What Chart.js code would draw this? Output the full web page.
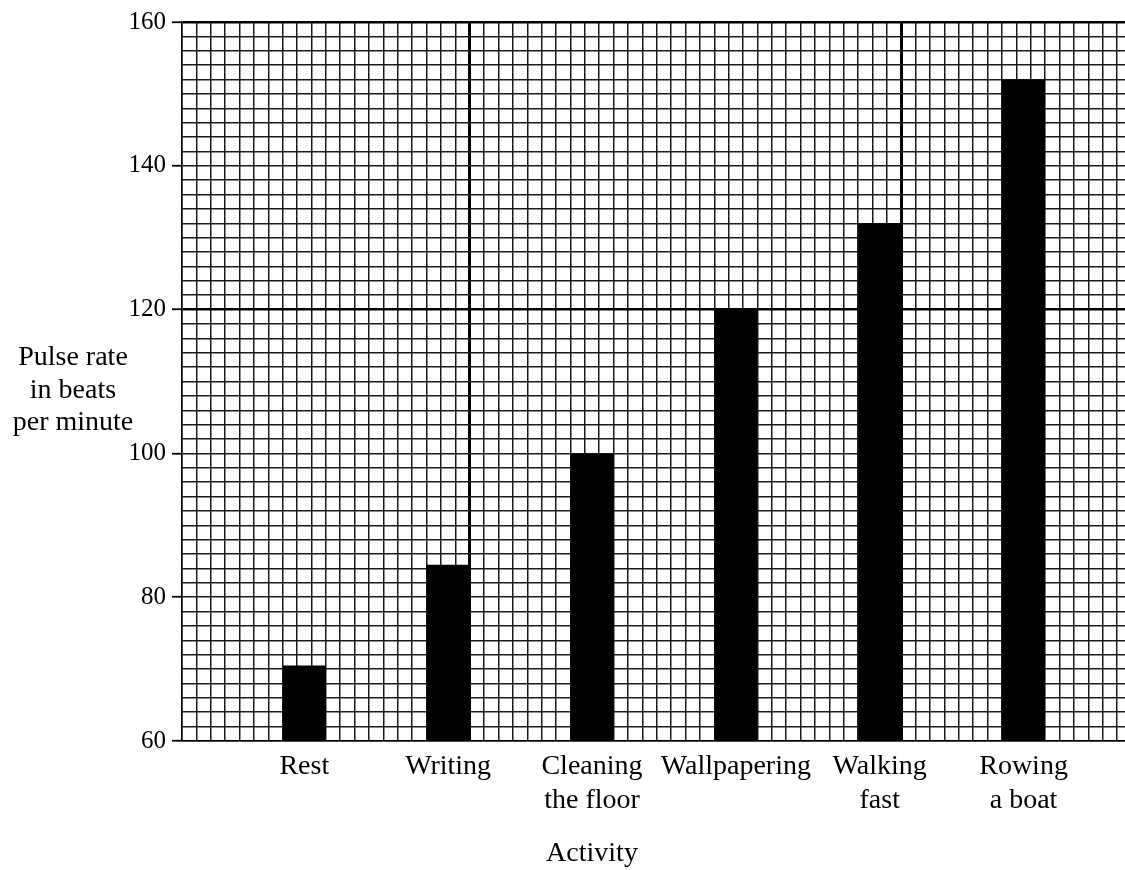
<!DOCTYPE html>
<html>
<head>
<meta charset="utf-8">
<script src="https://cdn.jsdelivr.net/npm/chart.js@4"></script>
<style>
  html, body { margin: 0; padding: 0; background: #fff; overflow: hidden; }
  #wrap { position: absolute; left: 0; top: 0; }
</style>
</head>
<body>
<div id="wrap"><canvas id="c" width="1189" height="870"></canvas></div>
<script>
// ---- data ----
const categories = ['Rest', 'Writing', 'Cleaning the floor', 'Wallpapering', 'Walking fast', 'Rowing a boat'];
const labelLines = [['Rest'], ['Writing'], ['Cleaning', 'the floor'], ['Wallpapering'], ['Walking', 'fast'], ['Rowing', 'a boat']];
const pulseRates = [70.5, 84.5, 100, 120, 132, 152];
const barPositions = [8.5, 18.5, 28.5, 38.5, 48.5, 58.5]; // in grid-cell units along x
const yLabelTicks = [60, 80, 100, 120, 140, 160];
const heavyY = [120, 160];
const heavyX = [20, 50];
const yTitleLines = ['Pulse rate', 'in beats', 'per minute'];
const xTitle = 'Activity';

const FONT = '"Liberation Serif", "Times New Roman", serif';
const GRID_COLOR = '#1a1a1a';

const titles = {
  id: 'titles',
  afterDraw(chart) {
    const ctx = chart.ctx;
    ctx.save();
    ctx.fillStyle = '#000';
    ctx.font = '28px ' + FONT;
    ctx.textAlign = 'center';
    ctx.textBaseline = 'middle';
    const y0 = chart.scales.y.getPixelForValue(113.3);
    yTitleLines.forEach((t, i) => ctx.fillText(t, 73, y0 + i * 32.5));
    ctx.fillText(xTitle, chart.scales.x.getPixelForValue(barPositions[2]), 854);
    ctx.restore();
  }
};

new Chart(document.getElementById('c'), {
  type: 'bar',
  data: {
    datasets: [{
      data: barPositions.map((x, i) => ({ x: x, y: pulseRates[i] })),
      backgroundColor: '#000',
      borderWidth: 0,
      categoryPercentage: 1,
      barPercentage: 0.3
    }]
  },
  options: {
    responsive: false,
    animation: false,
    devicePixelRatio: 1,
    layout: { padding: { top: 22, right: 0, left: 0, bottom: 0 } },
    plugins: { legend: { display: false }, tooltip: { enabled: false } },
    scales: {
      x: {
        type: 'linear',
        position: 'bottom',
        offset: false,
        weight: 1,
        min: 0,
        max: 70,
        afterBuildTicks(axis) { axis.ticks = barPositions.map(v => ({ value: v })); },
        afterFit(axis) { axis.height = 129; },
        ticks: {
          autoSkip: false,
          maxRotation: 0,
          padding: 9,
          color: '#000',
          font: { family: FONT, size: 28 },
          callback: (v, i) => labelLines[i]
        },
        grid: { display: false, drawTicks: false, offset: false },
        border: { display: false }
      },
      xg: {
        type: 'linear',
        position: 'bottom',
        offset: false,
        weight: 0,
        min: 0,
        max: 70,
        afterFit(axis) { axis.height = 0; },
        ticks: { display: false, stepSize: 1, maxTicksLimit: 1000, autoSkip: false },
        grid: {
          offset: false,
          drawTicks: false,
          color: ctx => heavyX.includes(ctx.tick && ctx.tick.value) ? '#000' : GRID_COLOR,
          lineWidth: ctx => heavyX.includes(ctx.tick && ctx.tick.value) ? 3 : 1.5
        },
        border: { display: true, color: '#000', width: 1.5 }
      },
      y: {
        type: 'linear',
        min: 60,
        max: 160,
        afterFit(axis) { axis.width = 182; },
        ticks: {
          stepSize: 2,
          maxTicksLimit: 1000,
          autoSkip: false,
          padding: 6,
          color: '#000',
          font: { family: FONT, size: 25 },
          callback: v => yLabelTicks.includes(v) ? String(v) : ''
        },
        grid: {
          tickLength: 10,
          color: ctx => heavyY.includes(ctx.tick && ctx.tick.value) ? '#000' : GRID_COLOR,
          lineWidth: ctx => heavyY.includes(ctx.tick && ctx.tick.value) ? 2.5 : 1.5,
          tickColor: ctx => yLabelTicks.includes(ctx.tick && ctx.tick.value) ? '#000' : 'rgba(0,0,0,0)',
          tickWidth: ctx => yLabelTicks.includes(ctx.tick && ctx.tick.value) ? 1.8 : 0
        },
        border: { display: true, color: '#000', width: 1.5 }
      }
    }
  },
  plugins: [titles]
});
</script>
</body>
</html>
